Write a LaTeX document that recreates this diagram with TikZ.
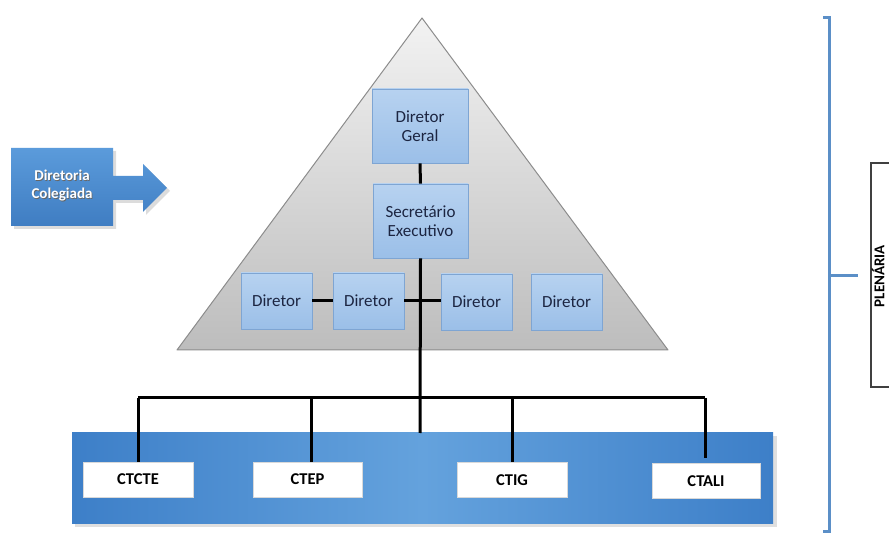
\documentclass[tikz,border=0pt]{standalone}
\usepackage{fontspec}
\setmainfont{Carlito}
\definecolor{navytext}{HTML}{1C2541}
\definecolor{boxtop}{HTML}{B7D2F0}
\definecolor{boxbot}{HTML}{9BBFE8}
\definecolor{boxedge}{HTML}{7EA5D3}
\definecolor{banddark}{HTML}{3D7FC8}
\definecolor{bandlight}{HTML}{64A2DD}
\definecolor{bracketblue}{HTML}{5B8FC7}
\definecolor{arrowtop}{HTML}{5B9BDB}
\definecolor{arrowbot}{HTML}{3F7DC2}
\tikzset{
  orgbox/.style={draw=boxedge, line width=0.8pt, top color=boxtop, bottom color=boxbot,
    text=navytext, font=\fontsize{17}{19}\selectfont, align=center, inner sep=0pt},
  ctbox/.style={fill=white, draw=white!85!black, line width=0.5pt, minimum height=35pt,
    font=\fontsize{16.5}{18}\selectfont\bfseries, text=black, inner sep=0pt},
  link/.style={line width=3pt, black},
  brace/.style={line width=3pt, bracketblue}
}
\begin{document}
\begin{tikzpicture}[x=1pt,y=-1pt]
  \useasboundingbox (0,0) rectangle (889,534);
  \clip (0,0) rectangle (889,534);

  % pyramid
  \shade[top color=white!95!black, bottom color=white!74!black] (422,18) -- (668,350) -- (177,350) -- cycle;
  \draw[line width=1pt, white!55!black, line join=round] (422,18) -- (668,350) -- (177,350) -- cycle;

  % band holding the technical committees
  \fill[black!25, opacity=0.5] (75,436) rectangle (777,527);
  \shade[left color=banddark, right color=banddark, middle color=bandlight] (72,433) rectangle (773,523);

  % leadership boxes
  \node[orgbox, minimum width=96pt, minimum height=74pt] (dg) at (420,126) {Diretor\\Geral};
  \node[orgbox, minimum width=95pt, minimum height=74pt] (se) at (420.5,221) {Secretário\\Executivo};
  \node[orgbox, minimum width=71pt, minimum height=56pt] (d1) at (276.5,301) {Diretor};
  \node[orgbox, minimum width=71pt, minimum height=56pt] (d2) at (368.5,301) {Diretor};
  \node[orgbox, minimum width=71pt, minimum height=56pt] (d3) at (476.5,302) {Diretor};
  \node[orgbox, minimum width=71pt, minimum height=56pt] (d4) at (566.5,302) {Diretor};

  % committees
  \node[ctbox, minimum width=110pt] (c1) at (138,479.5) {CTCTE};
  \node[ctbox, minimum width=109pt] (c2) at (307.5,479.5) {CTEP};
  \node[ctbox, minimum width=110pt] (c3) at (512,480) {CTIG};
  \node[ctbox, minimum width=108pt] (c4) at (706,481) {CTALI};

  % junction points of the tree
  \coordinate (hub) at (420,398);
  \coordinate (bandtop) at (420,433);
  \coordinate (b1) at (c1.north |- hub);
  \coordinate (b2) at (311,398);
  \coordinate (b4) at (705,398);

  % connectors
  \draw[link] (dg.south) -- (se.north);
  \draw[link] (se.south) -- (bandtop);
  \draw[link] (d1.east) -- (d2.west);
  \draw[link] (d2.east) -- (d3.west |- d2.east);
  \draw[link] (b1) -- (b4);
  \draw[link] (b1) -- (c1.north);
  \draw[link] (b2) -- (b2 |- c2.north);
  \draw[link] (c3.north |- hub) -- (c3.north);
  \draw[link] (b4) -- (705,458);

  % collegiate board callout arrow
  \fill[black!30, opacity=0.45] (14,151) -- (116,151) -- (116,179) -- (146,179) -- (146,167)
     -- (170,191) -- (146,215) -- (146,203) -- (116,203) -- (116,229) -- (14,229) -- cycle;
  \shade[top color=arrowtop, bottom color=arrowbot] (11,148) -- (113,148) -- (113,176) -- (143,176) -- (143,164)
     -- (167,188) -- (143,212) -- (143,200) -- (113,200) -- (113,226) -- (11,226) -- cycle;
  \node[text=black!60, font=\fontsize{15}{18}\selectfont\bfseries, align=center] (dcs) at (62.8,186.8) {Diretoria\\Colegiada};
  \node[text=white, font=\fontsize{15}{18}\selectfont\bfseries, align=center] (dc) at (62,186) {Diretoria\\Colegiada};

  % plenary bracket
  \draw[brace, line join=miter] (823,18) -- (829.5,18) -- (829.5,531) -- (823,531);
  \coordinate (tickend) at (858,276);
  \draw[brace] (829.5,276) -- (tickend);
  \draw[line width=1.4pt, black!75] (895,163) -- (871,163) -- (871,387) -- (895,387);
  \node[rotate=90, font=\fontsize{15}{17}\selectfont\bfseries, text=black, inner sep=0pt] (pl) at (878,276) {PLENÁRIA};
\end{tikzpicture}
\end{document}
